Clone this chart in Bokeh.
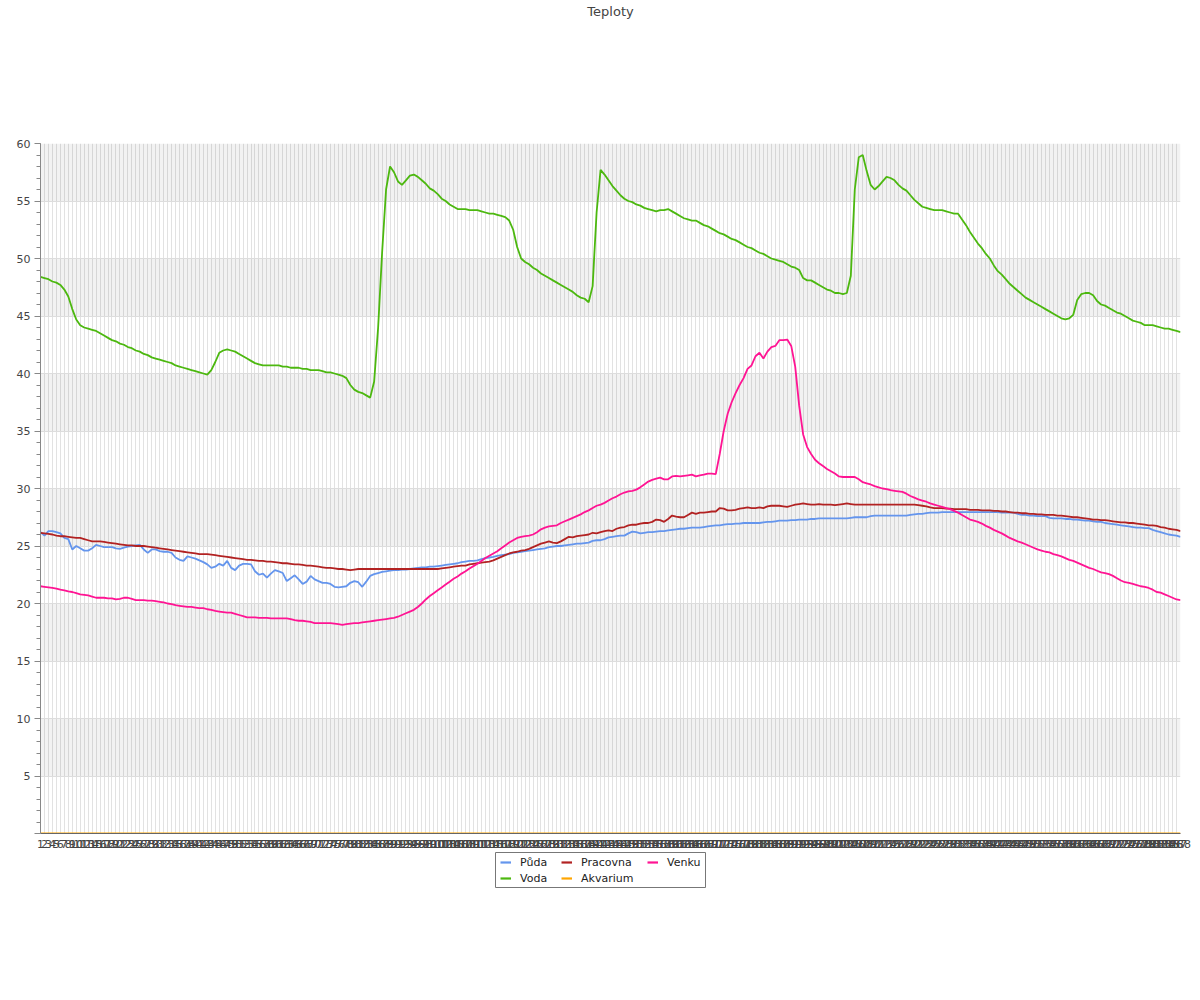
from bokeh.plotting import figure
from bokeh.models import Range1d, FixedTicker, Legend, LegendItem, LinearAxis, Spacer
from bokeh.layouts import column, row
from bokeh.embed import file_html
from bokeh.resources import INLINE

FONT = "DejaVu Sans"

# category labels along the x axis
labels = [str(i) for i in range(1, 289)]

voda = [
    48.4, 48.3, 48.2, 48.0, 47.9, 47.7, 47.3, 46.7, 45.6, 44.7,
    44.2, 44.0, 43.9, 43.8, 43.7, 43.5, 43.3, 43.1, 42.9, 42.8,
    42.6, 42.5, 42.3, 42.2, 42.0, 41.9, 41.7, 41.6, 41.4, 41.3,
    41.2, 41.1, 41.0, 40.9, 40.7, 40.6, 40.5, 40.4, 40.3, 40.2,
    40.1, 40.0, 39.9, 40.3, 41.0, 41.8, 42.0, 42.1, 42.0, 41.9,
    41.7, 41.5, 41.3, 41.1, 40.9, 40.8, 40.7, 40.7, 40.7, 40.7,
    40.7, 40.6, 40.6, 40.5, 40.5, 40.5, 40.4, 40.4, 40.3, 40.3,
    40.3, 40.2, 40.1, 40.1, 40.0, 39.9, 39.8, 39.6, 39.0, 38.6,
    38.4, 38.3, 38.1, 37.9, 39.3, 44.0, 50.5, 56.0, 58.0, 57.5,
    56.7, 56.4, 56.8, 57.2, 57.3, 57.1, 56.8, 56.5, 56.1, 55.9,
    55.6, 55.2, 55.0, 54.7, 54.5, 54.3, 54.3, 54.3, 54.2, 54.2,
    54.2, 54.1, 54.0, 53.9, 53.9, 53.8, 53.7, 53.6, 53.3, 52.5,
    51.0, 50.0, 49.7, 49.5, 49.2, 49.0, 48.7, 48.5, 48.3, 48.1,
    47.9, 47.7, 47.5, 47.3, 47.1, 46.8, 46.6, 46.5, 46.2, 47.6,
    54.0, 57.7, 57.3, 56.8, 56.3, 55.9, 55.5, 55.2, 55.0, 54.9,
    54.7, 54.6, 54.4, 54.3, 54.2, 54.1, 54.2, 54.2, 54.3, 54.1,
    53.9, 53.7, 53.5, 53.4, 53.3, 53.3, 53.1, 52.9, 52.8, 52.6,
    52.4, 52.2, 52.1, 51.9, 51.7, 51.6, 51.4, 51.2, 51.0, 50.9,
    50.7, 50.5, 50.4, 50.2, 50.0, 49.9, 49.8, 49.7, 49.5, 49.3,
    49.2, 49.0, 48.3, 48.1, 48.1, 47.9, 47.7, 47.5, 47.3, 47.2,
    47.0, 47.0, 46.9, 47.0, 48.5, 56.0, 58.8, 59.0, 57.6, 56.4,
    56.0, 56.3, 56.7, 57.1, 57.0, 56.8, 56.4, 56.1, 55.9, 55.5,
    55.1, 54.8, 54.5, 54.4, 54.3, 54.2, 54.2, 54.2, 54.1, 54.0,
    53.9, 53.9, 53.4, 52.9, 52.3, 51.8, 51.3, 50.9, 50.4, 50.0,
    49.4, 48.9, 48.6, 48.2, 47.8, 47.5, 47.2, 46.9, 46.6, 46.4,
    46.2, 46.0, 45.8, 45.6, 45.4, 45.2, 45.0, 44.8, 44.7, 44.8,
    45.1, 46.4, 46.9, 47.0, 47.0, 46.8, 46.3, 46.0, 45.9, 45.7,
    45.5, 45.3, 45.2, 45.0, 44.8, 44.6, 44.5, 44.4, 44.2, 44.2,
    44.2, 44.1, 44.0, 43.9, 43.9, 43.8, 43.7, 43.6,
]

puda = [
    26.2, 25.9, 26.3, 26.3, 26.2, 26.1, 25.7, 25.6, 24.7, 25.0,
    24.8, 24.6, 24.6, 24.8, 25.1, 25.0, 24.9, 24.9, 24.9, 24.8,
    24.75, 24.85, 24.95, 25.0, 25.05, 25.1, 24.7, 24.4, 24.7, 24.7,
    24.55, 24.5, 24.5, 24.4, 24.0, 23.8, 23.7, 24.1, 24.0, 23.9,
    23.75, 23.6, 23.4, 23.1, 23.2, 23.45, 23.3, 23.7, 23.1, 22.9,
    23.3, 23.45, 23.45, 23.4, 22.8, 22.5, 22.6, 22.25, 22.6, 22.9,
    22.8, 22.65, 21.95, 22.2, 22.45, 22.1, 21.7, 21.9, 22.4, 22.1,
    21.95, 21.8, 21.8, 21.7, 21.45, 21.4, 21.45, 21.5, 21.8, 21.95,
    21.85, 21.45, 21.9, 22.4, 22.55, 22.65, 22.75, 22.8, 22.85, 22.9,
    22.9, 22.95, 22.95, 23.0, 23.05, 23.1, 23.15, 23.15, 23.2, 23.2,
    23.25, 23.3, 23.35, 23.4, 23.45, 23.5, 23.6, 23.65, 23.7, 23.7,
    23.75, 23.85, 23.95, 24.0, 24.05, 24.15, 24.2, 24.25, 24.3, 24.4,
    24.45, 24.5, 24.55, 24.6, 24.65, 24.7, 24.75, 24.8, 24.9, 24.95,
    25.0, 25.0, 25.05, 25.1, 25.15, 25.2, 25.2, 25.25, 25.3, 25.45,
    25.5, 25.5, 25.6, 25.75, 25.8, 25.85, 25.9, 25.9, 26.1, 26.25,
    26.2, 26.1, 26.15, 26.2, 26.2, 26.25, 26.3, 26.3, 26.35, 26.4,
    26.45, 26.5, 26.5, 26.55, 26.6, 26.6, 26.6, 26.65, 26.7, 26.75,
    26.8, 26.8, 26.85, 26.9, 26.9, 26.95, 26.95, 27.0, 27.0, 27.0,
    27.0, 27.0, 27.05, 27.1, 27.1, 27.15, 27.2, 27.2, 27.2, 27.25,
    27.25, 27.3, 27.3, 27.3, 27.35, 27.35, 27.4, 27.4, 27.4, 27.4,
    27.4, 27.4, 27.4, 27.4, 27.45, 27.5, 27.5, 27.5, 27.5, 27.6,
    27.65, 27.65, 27.65, 27.65, 27.65, 27.65, 27.65, 27.65, 27.65, 27.7,
    27.75, 27.8, 27.8, 27.85, 27.9, 27.9, 27.9, 27.95, 27.95, 27.95,
    27.95, 27.95, 27.95, 27.95, 27.95, 27.95, 27.95, 27.95, 27.95, 27.95,
    27.95, 27.95, 27.9, 27.9, 27.9, 27.9, 27.8, 27.7, 27.7, 27.65,
    27.65, 27.6, 27.6, 27.6, 27.45, 27.4, 27.4, 27.4, 27.35, 27.35,
    27.3, 27.3, 27.25, 27.2, 27.2, 27.15, 27.1, 27.1, 27.0, 26.95,
    26.9, 26.85, 26.8, 26.75, 26.7, 26.65, 26.6, 26.6, 26.55, 26.55,
    26.4, 26.3, 26.2, 26.1, 26.0, 25.95, 25.9, 25.8,
]

pracovna = [
    26.15, 26.1, 26.05, 26.0, 25.9, 25.85, 25.85, 25.8, 25.75, 25.7,
    25.7, 25.6, 25.5, 25.4, 25.4, 25.4, 25.35, 25.3, 25.25, 25.2,
    25.15, 25.1, 25.05, 25.05, 25.0, 25.0, 25.0, 24.95, 24.9, 24.85,
    24.8, 24.75, 24.7, 24.65, 24.6, 24.55, 24.5, 24.45, 24.4, 24.35,
    24.3, 24.3, 24.3, 24.25, 24.2, 24.15, 24.1, 24.05, 24.0, 23.95,
    23.9, 23.85, 23.8, 23.8, 23.75, 23.7, 23.7, 23.65, 23.65, 23.6,
    23.55, 23.5, 23.5, 23.45, 23.4, 23.4, 23.35, 23.3, 23.3, 23.25,
    23.2, 23.15, 23.1, 23.1, 23.05, 23.0, 23.0, 22.95, 22.9, 22.95,
    23.0, 23.0, 23.0, 23.0, 23.0, 23.0, 23.0, 23.0, 23.0, 23.0,
    23.0, 23.0, 23.0, 23.0, 23.0, 23.0, 23.0, 23.0, 23.0, 23.0,
    23.0, 23.05, 23.1, 23.15, 23.2, 23.25, 23.3, 23.3, 23.4, 23.45,
    23.5, 23.55, 23.6, 23.65, 23.75, 23.9, 24.05, 24.2, 24.35, 24.45,
    24.5, 24.6, 24.65, 24.75, 24.9, 25.05, 25.2, 25.3, 25.4, 25.3,
    25.25, 25.4, 25.6, 25.8, 25.75, 25.85, 25.9, 25.95, 26.0, 26.15,
    26.1, 26.2, 26.3, 26.35, 26.3, 26.5, 26.6, 26.65, 26.8, 26.85,
    26.85, 26.95, 27.0, 27.0, 27.1, 27.3, 27.25, 27.1, 27.35, 27.65,
    27.55, 27.5, 27.5, 27.7, 27.9, 27.8, 27.9, 27.9, 27.95, 28.0,
    28.0, 28.3, 28.25, 28.1, 28.1, 28.15, 28.25, 28.3, 28.35, 28.3,
    28.3, 28.35, 28.3, 28.45, 28.5, 28.5, 28.5, 28.45, 28.4, 28.5,
    28.6, 28.65, 28.7, 28.65, 28.6, 28.6, 28.65, 28.6, 28.6, 28.6,
    28.55, 28.6, 28.65, 28.7, 28.65, 28.6, 28.6, 28.6, 28.6, 28.6,
    28.6, 28.6, 28.6, 28.6, 28.6, 28.6, 28.6, 28.6, 28.6, 28.6,
    28.6, 28.55, 28.5, 28.45, 28.35, 28.3, 28.3, 28.3, 28.25, 28.25,
    28.2, 28.2, 28.2, 28.2, 28.15, 28.15, 28.15, 28.1, 28.1, 28.1,
    28.05, 28.05, 28.0, 28.0, 27.95, 27.9, 27.9, 27.85, 27.85, 27.8,
    27.8, 27.75, 27.75, 27.7, 27.7, 27.7, 27.65, 27.65, 27.6, 27.55,
    27.5, 27.5, 27.45, 27.4, 27.35, 27.3, 27.3, 27.25, 27.25, 27.2,
    27.15, 27.1, 27.05, 27.05, 27.0, 27.0, 26.95, 26.9, 26.85, 26.8,
    26.8, 26.75, 26.65, 26.6, 26.5, 26.45, 26.4, 26.3,
]

akvarium = [0.0] * 288

venku = [
    21.5, 21.45, 21.4, 21.35, 21.3, 21.2, 21.15, 21.05, 21.0, 20.9,
    20.8, 20.75, 20.7, 20.6, 20.5, 20.5, 20.5, 20.45, 20.45, 20.35,
    20.4, 20.5, 20.5, 20.4, 20.3, 20.3, 20.3, 20.25, 20.25, 20.2,
    20.15, 20.1, 20.0, 19.95, 19.85, 19.8, 19.75, 19.7, 19.7, 19.65,
    19.6, 19.6, 19.5, 19.45, 19.35, 19.3, 19.25, 19.2, 19.2, 19.1,
    19.0, 18.9, 18.8, 18.8, 18.8, 18.75, 18.75, 18.75, 18.7, 18.7,
    18.7, 18.7, 18.7, 18.65, 18.55, 18.5, 18.5, 18.45, 18.4, 18.3,
    18.3, 18.3, 18.3, 18.3, 18.25, 18.2, 18.15, 18.2, 18.25, 18.3,
    18.3, 18.35, 18.4, 18.45, 18.5, 18.55, 18.6, 18.65, 18.7, 18.75,
    18.85, 19.0, 19.15, 19.3, 19.45, 19.7, 20.0, 20.35, 20.65, 20.9,
    21.15, 21.4, 21.65, 21.9, 22.15, 22.35, 22.6, 22.8, 23.05, 23.25,
    23.45, 23.7, 23.95, 24.15, 24.35, 24.55, 24.8, 25.05, 25.3, 25.5,
    25.7, 25.8, 25.85, 25.9, 26.0, 26.2, 26.45, 26.6, 26.7, 26.75,
    26.8, 27.0, 27.15, 27.3, 27.45, 27.6, 27.75, 27.95, 28.1, 28.3,
    28.5, 28.6, 28.75, 28.95, 29.15, 29.3, 29.5, 29.65, 29.75, 29.8,
    29.9, 30.1, 30.35, 30.6, 30.75, 30.85, 30.95, 30.8, 30.8, 31.05,
    31.1, 31.05, 31.1, 31.15, 31.2, 31.05, 31.15, 31.2, 31.3, 31.3,
    31.25, 33.0, 35.0, 36.5, 37.5, 38.3, 39.0, 39.6, 40.4, 40.7,
    41.5, 41.8, 41.3, 41.9, 42.3, 42.4, 42.9, 42.9, 42.95, 42.4,
    40.6, 37.2, 34.7, 33.6, 33.0, 32.5, 32.2, 31.95, 31.7, 31.5,
    31.3, 31.05, 31.0, 31.0, 31.0, 31.0, 30.8, 30.55, 30.45, 30.35,
    30.2, 30.1, 30.0, 29.95, 29.85, 29.8, 29.75, 29.7, 29.55, 29.35,
    29.2, 29.05, 28.95, 28.85, 28.7, 28.6, 28.5, 28.4, 28.3, 28.2,
    28.05, 27.9, 27.7, 27.5, 27.3, 27.2, 27.1, 26.95, 26.75, 26.6,
    26.4, 26.25, 26.1, 25.9, 25.7, 25.55, 25.4, 25.3, 25.15, 25.0,
    24.85, 24.7, 24.6, 24.5, 24.45, 24.3, 24.2, 24.1, 23.95, 23.8,
    23.7, 23.55, 23.4, 23.25, 23.1, 23.0, 22.85, 22.7, 22.65, 22.55,
    22.4, 22.2, 22.0, 21.85, 21.8, 21.7, 21.6, 21.5, 21.45, 21.35,
    21.2, 21.0, 20.95, 20.8, 20.65, 20.5, 20.35, 20.3,
]

series_names = ["Půda", "Voda", "Pracovna", "Akvarium", "Venku"]
series_values = [puda, voda, pracovna, akvarium, venku]
series_colors = ["#6495ED", "#4CB80F", "#B22222", "#FFA500", "#FF1493"]

y_ticks = [0, 5, 10, 15, 20, 25, 30, 35, 40, 45, 50, 55, 60]

n = len(labels)
x = list(range(1, n + 1))

p = figure(width=1192, height=852, output_backend="svg", toolbar_location=None,
           x_range=Range1d(1, n), y_range=Range1d(0, 60),
           min_border_left=40, min_border_right=12, min_border_top=143,
           min_border_bottom=19, title=None)
p.outline_line_color = None
p.background_fill_color = "white"

# x axis
p.xaxis.ticker = FixedTicker(ticks=x)
p.xaxis.major_label_overrides = {i: labels[i - 1] for i in x}
p.xaxis.major_label_text_font = FONT
p.xaxis.major_label_text_font_size = "11px"
p.xaxis.major_label_text_color = "#444444"
p.xaxis.major_label_standoff = 6
p.xaxis.major_tick_out = 0
p.xaxis.major_tick_in = 0
p.xaxis.minor_tick_out = 0
p.xaxis.axis_line_color = "#666666"

# y axis
p.yaxis.ticker = FixedTicker(ticks=y_ticks, minor_ticks=list(range(0, 61)))
p.yaxis.major_label_overrides = {0: ""}
p.yaxis.major_label_text_font = FONT
p.yaxis.major_label_text_font_size = "11px"
p.yaxis.major_label_text_color = "#444444"
p.yaxis.axis_line_color = "#888888"
p.yaxis.major_tick_line_color = "#888888"
p.yaxis.minor_tick_line_color = "#888888"
p.yaxis.major_tick_out = 6
p.yaxis.major_tick_in = 0
p.yaxis.minor_tick_out = 4
p.yaxis.minor_tick_in = 0
p.yaxis.major_label_standoff = 4

p.xgrid.grid_line_color = "#e2e2e2"
p.ygrid.grid_line_color = "#dddddd"
p.ygrid.band_fill_color = "black"
p.ygrid.band_fill_alpha = 0.05

# title: an empty top axis whose label sits at the top of the canvas
top = LinearAxis(ticker=FixedTicker(ticks=[]), axis_line_color=None,
                 major_tick_line_color=None, minor_tick_line_color=None,
                 axis_label="Teploty", axis_label_standoff=125,
                 axis_label_text_font=FONT, axis_label_text_font_size="13px",
                 axis_label_text_font_style="normal", axis_label_text_color="#444444")
p.add_layout(top, "above")

for name, vals, col in zip(series_names, series_values, series_colors):
    p.line(x, vals, line_color=col, line_width=1.8)

# legend box below the chart: a small figure whose outline is the legend border
lf = figure(width=211, height=36, output_backend="svg", toolbar_location=None,
            x_range=Range1d(-2, -1), y_range=Range1d(-2, -1),
            x_axis_location=None, y_axis_location=None,
            min_border_left=0, min_border_right=0, min_border_top=0, min_border_bottom=0)
lf.grid.visible = False
lf.outline_line_color = "#777777"
lf.outline_line_width = 1
lf.background_fill_color = "white"

# proxy renderers (outside the visible range) that only feed the legend glyphs
leg_r = {}
for name, vals, col in zip(series_names, series_values, series_colors):
    leg_r[name] = lf.line(x, vals, line_color=col, line_width=2.2)

legend_columns = [["Půda", "Voda"], ["Pracovna", "Akvarium"], ["Venku"]]
legend_x = [5, 66, 152]
for names, lx in zip(legend_columns, legend_x):
    lg = Legend(items=[LegendItem(label=nm, renderers=[leg_r[nm]]) for nm in names],
                location=(lx, 34 - 16 * len(names)))
    lg.label_text_font = FONT
    lg.label_text_font_size = "11px"
    lg.label_text_color = "#222222"
    lg.glyph_width = 11
    lg.glyph_height = 16
    lg.label_height = 16
    lg.label_standoff = 9
    lg.spacing = 0
    lg.padding = 0
    lg.margin = 0
    lg.border_line_color = None
    lg.background_fill_alpha = 0
    lf.add_layout(lg)

layout = column(p, row(Spacer(width=495, height=36), lf, spacing=0), spacing=0)

open("out.html", "w").write(file_html(layout, INLINE))
